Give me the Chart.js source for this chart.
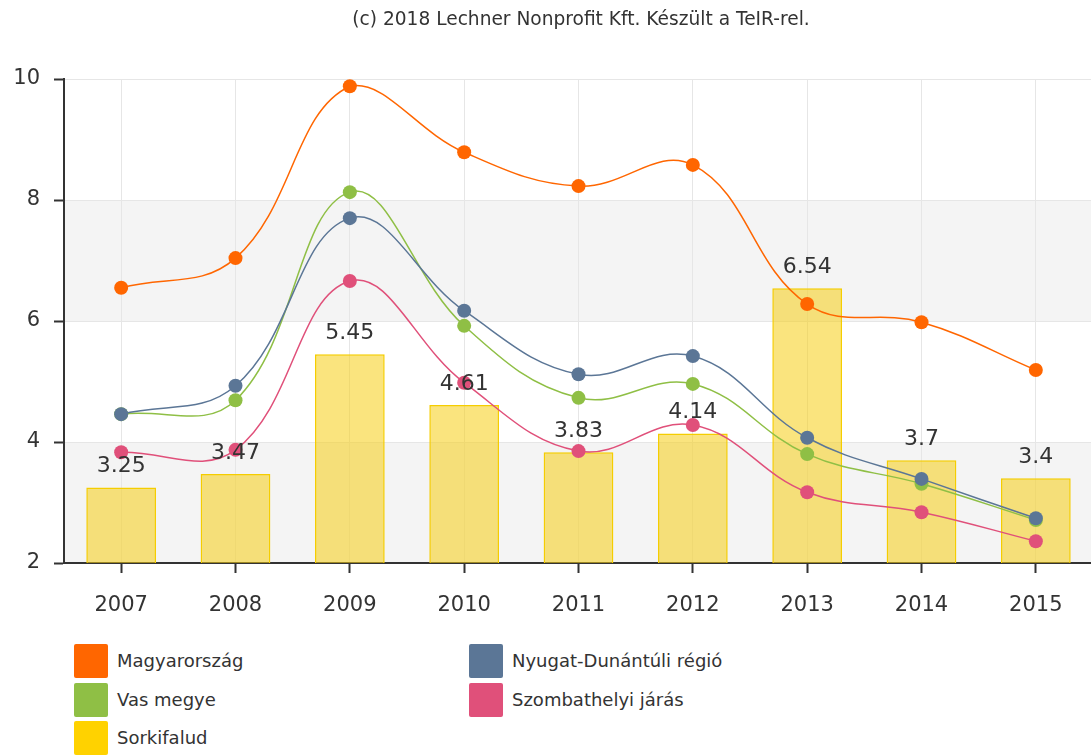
<!DOCTYPE html>
<html>
<head>
<meta charset="utf-8">
<script src="https://cdn.jsdelivr.net/npm/chart.js@4/dist/chart.umd.min.js"></script>
<style>
  html, body { margin: 0; padding: 0; background: #fff; overflow: hidden; }
  #chart { position: absolute; left: 0; top: 0; }
  #title { position: absolute; left: 281px; width: 600px; top: 8px; text-align: center; white-space: nowrap;
           font-family: "DejaVu Sans", sans-serif; font-size: 18.6px; color: #333; }
  .legend { position: absolute; left: 0; top: 0; font-family: "DejaVu Sans", sans-serif; font-size: 18px; color: #333; }
  .legend .item { position: absolute; white-space: nowrap; height: 34px; }
  .legend .sw { position: absolute; left: 0; top: 0; width: 34px; height: 34px; border-radius: 2px; }
  .legend .tx { position: absolute; left: 43px; top: 6px; }
</style>
</head>
<body>
<canvas id="chart" width="1100" height="640"></canvas>
<div id="title">(c) 2018 Lechner Nonprofit Kft. Készült a TeIR-rel.</div>
<div class="legend" id="legend"></div>
<script>
var years = ['2007', '2008', '2009', '2010', '2011', '2012', '2013', '2014', '2015'];
var magyarorszag = [6.55, 7.04, 9.88, 8.79, 8.23, 8.58, 6.28, 5.98, 5.19];
var nyugatDunantul = [4.46, 4.93, 7.70, 6.17, 5.12, 5.42, 4.07, 3.39, 2.74];
var vasMegye = [4.46, 4.69, 8.13, 5.92, 4.73, 4.96, 3.80, 3.31, 2.71];
var szombathely = [3.83, 3.87, 6.66, 4.98, 3.85, 4.28, 3.17, 2.84, 2.36];
var sorkifalud = [3.25, 3.47, 5.45, 4.61, 3.83, 4.14, 6.54, 3.7, 3.4];
var yTicks = [2, 4, 6, 8, 10];

var colors = {
    orange: '#ff6600',
    blue: '#5b7696',
    green: '#8fbf45',
    pink: '#e0507a',
    yellow: '#ffd200'
};

var legendItems = [
    { label: 'Magyarország', color: colors.orange, x: 74, y: 644 },
    { label: 'Nyugat-Dunántúli régió', color: colors.blue, x: 469, y: 644 },
    { label: 'Vas megye', color: colors.green, x: 74, y: 683 },
    { label: 'Szombathelyi járás', color: colors.pink, x: 469, y: 683 },
    { label: 'Sorkifalud', color: colors.yellow, x: 74, y: 721 }
];

var legendEl = document.getElementById('legend');
legendItems.forEach(function(it) {
    var d = document.createElement('div');
    d.className = 'item';
    d.style.left = it.x + 'px';
    d.style.top = it.y + 'px';
    d.innerHTML = '<span class="sw" style="background:' + it.color + '"></span><span class="tx">' + it.label + '</span>';
    legendEl.appendChild(d);
});

function lineSet(label, data, color) {
    return {
        type: 'line',
        label: label,
        data: data,
        borderColor: color,
        backgroundColor: color,
        borderWidth: 1.5,
        pointRadius: 7,
        pointHoverRadius: 7,
        pointBorderWidth: 0,
        tension: 0.4,
        fill: false,
        order: 1
    };
}

// alternating horizontal bands
var bandPlugin = {
    id: 'bands',
    beforeDraw: function(chart) {
        var ctx = chart.ctx, area = chart.chartArea, y = chart.scales.y;
        ctx.save();
        ctx.fillStyle = '#f4f4f4';
        [[2, 4], [6, 8]].forEach(function(b) {
            var top = y.getPixelForValue(b[1]);
            var bot = y.getPixelForValue(b[0]);
            ctx.fillRect(area.left, top, area.right - area.left, bot - top);
        });
        ctx.restore();
    }
};

// value labels above bars
var barLabelPlugin = {
    id: 'barLabels',
    afterDatasetsDraw: function(chart) {
        var ctx = chart.ctx;
        var idx = chart.data.datasets.findIndex(function(d) { return d.type === 'bar'; });
        var meta = chart.getDatasetMeta(idx);
        ctx.save();
        ctx.font = '22px "DejaVu Sans"';
        ctx.fillStyle = '#333';
        ctx.textAlign = 'center';
        ctx.textBaseline = 'middle';
        meta.data.forEach(function(el, i) {
            ctx.fillText(String(sorkifalud[i]), el.x, el.y - 21);
        });
        ctx.restore();
    }
};

var ctx = document.getElementById('chart').getContext('2d');
var chart = new Chart(ctx, {
    data: {
        labels: years,
        datasets: [
            lineSet('Magyarország', magyarorszag, colors.orange),
            lineSet('Nyugat-Dunántúli régió', nyugatDunantul, colors.blue),
            lineSet('Vas megye', vasMegye, colors.green),
            lineSet('Szombathelyi járás', szombathely, colors.pink),
            {
                type: 'bar',
                label: 'Sorkifalud',
                data: sorkifalud,
                backgroundColor: 'rgba(245, 205, 20, 0.55)',
                borderColor: '#f5cd00',
                borderWidth: 1.5,
                barPercentage: 0.61,
                categoryPercentage: 1,
                order: 2
            }
        ]
    },
    options: {
        responsive: false,
        animation: false,
        layout: { padding: { top: 79, left: 0, right: 0, bottom: 0 } },
        plugins: {
            legend: { display: false },
            tooltip: { enabled: false },
            title: { display: false }
        },
        scales: {
            x: {
                offset: true,
                grid: {
                    offset: false,
                    color: '#e6e6e6',
                    tickColor: '#333',
                    tickLength: 10,
                    tickWidth: 2
                },
                border: { color: '#333', width: 2 },
                ticks: {
                    color: '#333',
                    padding: 20,
                    font: { family: 'DejaVu Sans', size: 21 }
                },
                afterFit: function(scale) { scale.height = 77; }
            },
            y: {
                min: 2,
                max: 10,
                afterBuildTicks: function(scale) {
                    scale.ticks = yTicks.map(function(v) { return { value: v }; });
                },
                grid: {
                    color: '#e6e6e6',
                    tickColor: '#333',
                    tickLength: 10,
                    tickWidth: 2
                },
                border: { color: '#333', width: 2 },
                ticks: {
                    color: '#333',
                    padding: 14,
                    font: { family: 'DejaVu Sans', size: 21 }
                },
                afterFit: function(scale) { scale.width = 64; }
            }
        }
    },
    plugins: [bandPlugin, barLabelPlugin]
});
</script>
</body>
</html>
